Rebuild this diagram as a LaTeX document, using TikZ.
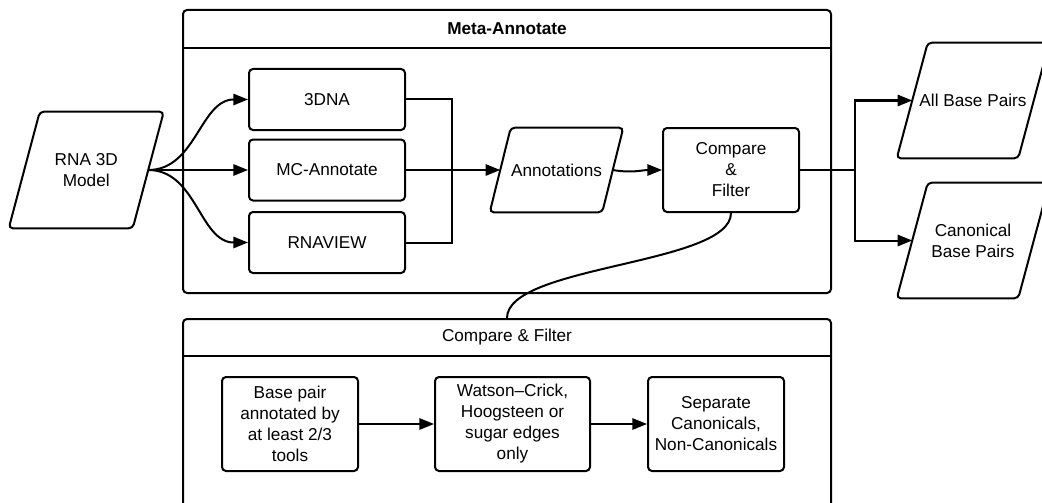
\documentclass[tikz,border=0pt]{standalone}
\usepackage{fontspec}
\setmainfont{Liberation Sans}
\usetikzlibrary{arrows.meta,calc}
\newcommand\drawpara[2]{\draw[shapeline] ($(#1.north west)+(#2,0)$) -- ($(#1.north east)+(#2,0)$) -- ($(#1.south east)-(#2,0)$) -- ($(#1.south west)-(#2,0)$) -- cycle;}
\begin{document}
\begin{tikzpicture}[x=0.75pt,y=-0.75pt,
  every node/.style={font=\fontsize{12.9}{15.75}\selectfont, align=center, inner sep=0pt},
  shapeline/.style={draw, line width=1.5pt, rounded corners=3pt},
  box/.style={shapeline},
  container/.style={shapeline, minimum width=486pt},
  divider/.style={draw, line width=1pt},
  conn/.style={line width=1.5pt},
  arr/.style={conn, -{Triangle[length=11pt,width=8.5pt]}}]
\clip (0,0) rectangle (1042,503);
\fill[white] (0,0) rectangle (1042,503);

% containers
\node[container, minimum height=212.25pt] (meta) at (507,151.5) {};
\node[font=\fontsize{12.9}{15.75}\selectfont\bfseries] (metatitle) at (507,29) {Meta-Annotate};
\draw[divider] ($(meta.north west)+(0,39)$) -- ($(meta.north east)+(0,39)$);

\node[container, minimum height=150.75pt] (cf) at (507,419.5) {};
\node (cftitle) at (507,337) {Compare \& Filter};
\draw[divider] ($(cf.north west)+(0,38)$) -- ($(cf.north east)+(0,38)$);

% input
\node[minimum width=92.6pt, minimum height=87pt] (rna) at (86.25,170) {RNA 3D\\Model};
\drawpara{rna}{15.5}

% tools
\node[box, minimum width=117pt, minimum height=45.75pt] (dna) at (327,99.5) {3DNA};
\node[box, minimum width=117pt, minimum height=45.75pt] (mc) at (327,170) {MC-Annotate};
\node[box, minimum width=117pt, minimum height=45.75pt] (rv) at (327,242.5) {RNAVIEW};

% annotations
\node[minimum width=84pt, minimum height=63pt] (ann) at (556.5,170) {Annotations};
\drawpara{ann}{10.5}

\node[box, minimum width=102pt, minimum height=63pt] (cmp) at (731,170) {Compare\\\&\\Filter};

% outputs
\node[minimum width=90.75pt, minimum height=86.25pt] (all) at (973,100.5) {All Base Pairs};
\drawpara{all}{15.5}
\node[minimum width=90.75pt, minimum height=86.25pt] (can) at (973,240.5) {Canonical\\Base Pairs};
\drawpara{can}{15.5}

% bottom steps
\node[box, minimum width=102pt, minimum height=70.5pt] (b1) at (290,424) {Base pair\\annotated by\\at least 2/3\\tools};
\node[box, minimum width=116.25pt, minimum height=70.5pt] (b2) at (512.5,424) {Watson–Crick,\\Hoogsteen or\\sugar edges\\only};
\node[box, minimum width=102pt, minimum height=70.5pt] (b3) at (716,424) {Separate\\Canonicals,\\Non-Canonicals};

% connectors
\draw[arr] (rna.east) to[out=0,in=180] (dna.west);
\draw[arr] (rna.east) to[out=0,in=180] (mc.west);
\draw[arr] (rna.east) to[out=0,in=180] (rv.west);

\coordinate (mj) at (452,170);
\draw[conn] (dna.east) -| (mj) |- (rv.east);
\draw[arr] (mc.east) -- (ann.west);
\draw[arr] (ann.east) to[out=-10,in=180] (cmp.west);

\coordinate (br) at (855,170);
\draw[conn] (cmp.east) -- (br);
\draw[arr] (br) |- (all.west);
\draw[arr] (br) |- (can.west);

\draw[conn] (cmp.south) .. controls (731,265) and (507,265) .. (cf.north);

\draw[arr] (b1.east) -- (b2.west);
\draw[arr] (b2.east) -- (b3.west);
\end{tikzpicture}
\end{document}
